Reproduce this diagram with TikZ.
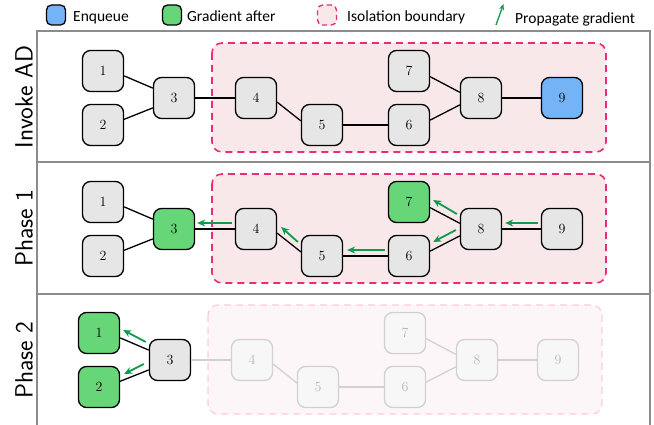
\documentclass[tikz,border=0pt]{standalone}
\usepackage{fontspec}
\newfontfamily\legfont{Carlito}
\usetikzlibrary{arrows.meta,calc}
\definecolor{nodegray}{HTML}{E6E6E6}
\definecolor{enqblue}{HTML}{74B4F6}
\definecolor{gradgreen}{HTML}{66D678}
\definecolor{arrgreen}{HTML}{109A4C}
\definecolor{isofill}{HTML}{F8E8EA}
\definecolor{isodraw}{HTML}{EE2A7B}
\definecolor{fadeisofill}{HTML}{FCF6F8}
\definecolor{fadeisodraw}{HTML}{FFCCDD}
\definecolor{framegray}{HTML}{8C8C8C}
\begin{document}
\begin{tikzpicture}[x=1pt,y=-1pt,
  gnode/.style={draw=black, line width=1.3pt, fill=nodegray, rounded corners=8pt,
    minimum width=41pt, minimum height=41pt, inner sep=0pt,
    font=\fontsize{14}{14}\selectfont},
  fnode/.style={gnode, draw=black!18, fill=black!3, text=black!28},
  bluenode/.style={gnode, fill=enqblue},
  greennode/.style={gnode, fill=gradgreen},
  gedge/.style={line width=1.3pt, black},
  fedge/.style={line width=1.3pt, black!18},
  isobox/.style={draw=isodraw, fill=isofill, line width=1.6pt, dash pattern=on 7pt off 5pt, rounded corners=10pt},
  fisobox/.style={draw=fadeisodraw, fill=fadeisofill, line width=1.3pt, dash pattern=on 7pt off 5pt, rounded corners=10pt},
  garrow/.style={draw=arrgreen, line width=1.8pt, -{Stealth[length=8pt,width=7pt]}},
  frameline/.style={draw=framegray, line width=1.1pt},
  sidelabel/.style={rotate=90, inner sep=0pt, font=\sffamily\fontsize{25}{25}\selectfont},
  legicon/.style={draw=black, line width=1.3pt, rounded corners=5pt, minimum width=19pt, minimum height=20pt, inner sep=0pt},
  legtext/.style={anchor=base west, inner sep=0pt, font=\legfont\fontsize{15.5}{15.5}\selectfont}
]
\useasboundingbox (0,0) rectangle (654,425);

% frame
\draw[frameline] (37,425) -- (37,31) -- (650,31) -- (650,425);
\draw[frameline] (37,162) -- (650,162);
\draw[frameline] (37,294) -- (650,294);

% legend
\node[legicon, fill=enqblue] (lg1) at (56,15) {};
\node[legtext] (lt1) at (73,21.5) {Enqueue};
\node[legicon, fill=gradgreen] (lg2) at (172,15) {};
\node[legtext] (lt2) at (187,21.5) {Gradient after};
\node[legicon, draw=isodraw, fill=isofill, line width=1.4pt, dash pattern=on 5pt off 3.5pt] (lg3) at (327,15) {};
\node[legtext] (lt3) at (347,21.5) {Isolation boundary};
\coordinate (la1) at (496,25);
\coordinate (la2) at (503.5,4);
\draw[draw=arrgreen, line width=1.3pt, -{Stealth[length=6pt,width=5pt]}] (la1) -- (la2);
\node[legtext] (lt4) at (515,23.5) {Propagate gradient};

% side labels
\node[sidelabel] (s1) at (24,97) {Invoke AD};
\node[sidelabel] (s2) at (24,228) {Phase 1};
\node[sidelabel] (s3) at (24,360) {Phase 2};

% ===== Panel 1: Invoke AD =====
\draw[isobox] (212,43) rectangle (606,152);
\node[gnode] (a1) at (103,71) {1};
\node[gnode] (a2) at (103,125) {2};
\node[gnode] (a3) at (174,98) {3};
\node[gnode] (a4) at (256,98) {4};
\node[gnode] (a5) at (322,125) {5};
\node[gnode] (a6) at (409,125) {6};
\node[gnode] (a7) at (409,71) {7};
\node[gnode] (a8) at (481,98) {8};
\node[bluenode] (a9) at (562,98) {9};
\draw[gedge] (a1.-13) -- (a3.155);
\draw[gedge] (a2.15) -- (a3.205);
\draw[gedge] (a3.east) -- (a4.west);
\draw[gedge] (a4.-11) -- (a5.169);
\draw[gedge] (a5.east) -- (a6.west);
\draw[gedge] (a7.-15) -- (a8.165);
\draw[gedge] (a6.13) -- (a8.198);
\draw[gedge] (a8.east) -- (a9.west);

% ===== Panel 2: Phase 1 =====
\begin{scope}[shift={(0,131)}]
\draw[isobox] (212,43) rectangle (606,152);
\node[gnode] (b1) at (103,71) {1};
\node[gnode] (b2) at (103,125) {2};
\node[greennode] (b3) at (174,98) {3};
\node[gnode] (b4) at (256,98) {4};
\node[gnode] (b5) at (322,125) {5};
\node[gnode] (b6) at (409,125) {6};
\node[greennode] (b7) at (409,71) {7};
\node[gnode] (b8) at (481,98) {8};
\node[gnode] (b9) at (562,98) {9};
\end{scope}
\draw[gedge] (b1.-13) -- (b3.155);
\draw[gedge] (b2.15) -- (b3.205);
\draw[gedge] (b3.east) -- (b4.west);
\draw[gedge] (b4.-11) -- (b5.169);
\draw[gedge] (b5.east) -- (b6.west);
\draw[gedge] (b7.-15) -- (b8.165);
\draw[gedge] (b6.13) -- (b8.198);
\draw[gedge] (b8.east) -- (b9.west);
\draw[garrow] ($(b4.west)+(-3,-6)$) -- ($(b3.east)+(2,-6)$);
\draw[garrow] ($(b5.west)+(-3,-14)$) -- ($(b4.east)+(4,-2)$);
\draw[garrow] ($(b6.west)+(-3,-6)$) -- ($(b5.east)+(4,-6)$);
\draw[garrow] ($(b9.west)+(-3,-6)$) -- ($(b8.east)+(3,-6)$);
\draw[garrow] ($(b8.west)+(-3,-15)$) -- ($(b7.east)+(3,-2)$);
\draw[garrow] ($(b8.west)+(-4,1)$) -- ($(b6.east)+(3,-14)$);

% ===== Panel 3: Phase 2 =====
\begin{scope}[shift={(-4,262)}]
\draw[fisobox] (212,43) rectangle (606,152);
\node[greennode] (c1) at (103,71) {1};
\node[greennode] (c2) at (103,125) {2};
\node[gnode] (c3) at (174,98) {3};
\node[fnode] (c4) at (256,98) {4};
\node[fnode] (c5) at (322,125) {5};
\node[fnode] (c6) at (409,125) {6};
\node[fnode] (c7) at (409,71) {7};
\node[fnode] (c8) at (481,98) {8};
\node[fnode] (c9) at (562,98) {9};
\end{scope}
\draw[gedge] (c1.-13) -- (c3.155);
\draw[gedge] (c2.15) -- (c3.205);
\draw[fedge] (c3.east) -- (c4.west);
\draw[fedge] (c4.-11) -- (c5.169);
\draw[fedge] (c5.east) -- (c6.west);
\draw[fedge] (c7.-15) -- (c8.165);
\draw[fedge] (c6.13) -- (c8.198);
\draw[fedge] (c8.east) -- (c9.west);
\draw[garrow] ($(c3.west)+(-3,-18)$) -- ($(c1.east)+(3,-3)$);
\draw[garrow] ($(c3.west)+(-5,4)$) -- ($(c2.east)+(4,-13)$);
\end{tikzpicture}
\end{document}
